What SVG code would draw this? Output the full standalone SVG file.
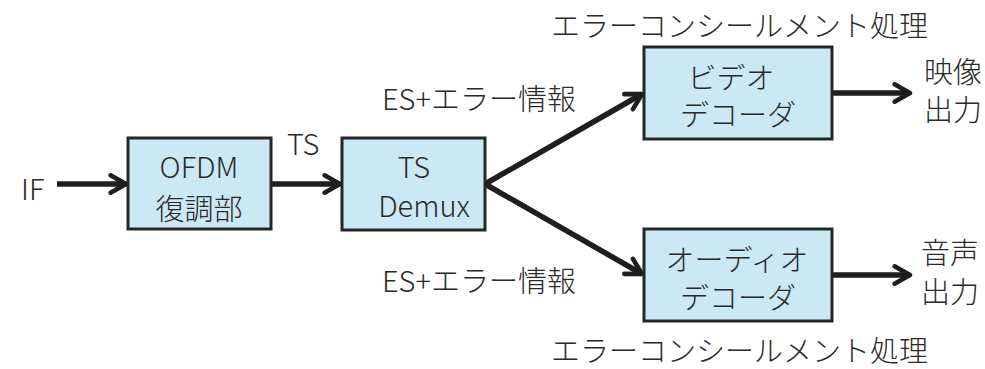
<svg xmlns="http://www.w3.org/2000/svg" width="985" height="369" viewBox="0 0 985 369">
  <style>
    text { font-family: "Noto Sans CJK JP", "Noto Sans", sans-serif; font-size: 29px; font-weight: 300; fill: #2a2a2a; }
    .c { text-anchor: middle; }
    .box { fill: #cbe9f4; stroke: #262626; stroke-width: 3; }
    .wire { fill: none; stroke: #1e1e1e; stroke-width: 5.5; }
  </style>
  <defs>
    <marker id="chev" viewBox="0 0 12 12" refX="10" refY="6" markerWidth="4.2" markerHeight="4.2" orient="auto" markerUnits="strokeWidth">
      <path d="M2,1.5 L10,6 L2,10.5" fill="none" stroke="#1e1e1e" stroke-width="2.4" stroke-linecap="round" stroke-linejoin="round"/>
    </marker>
  </defs>

  <g id="connectors">
    <line class="wire" x1="57" y1="184" x2="126" y2="184" marker-end="url(#chev)"/>
    <line class="wire" x1="271" y1="184" x2="340" y2="184" marker-end="url(#chev)"/>
    <line class="wire" x1="485" y1="184" x2="642" y2="94" marker-end="url(#chev)"/>
    <line class="wire" x1="485" y1="184" x2="642" y2="274" marker-end="url(#chev)"/>
    <line class="wire" x1="832" y1="93" x2="910" y2="93" marker-end="url(#chev)"/>
    <line class="wire" x1="832" y1="275" x2="910" y2="275" marker-end="url(#chev)"/>
  </g>

  <g id="labels">
    <text x="21" y="200">IF</text>
    <text x="287" y="155">TS</text>
    <text x="382" y="110">ES+エラー情報</text>
    <text x="382" y="292">ES+エラー情報</text>
    <text x="551" y="37">エラーコンシールメント処理</text>
    <text x="551" y="362">エラーコンシールメント処理</text>
    <text x="924" y="83">映像</text>
    <text x="924" y="121">出力</text>
    <text x="921" y="264">音声</text>
    <text x="921" y="303">出力</text>
  </g>

  <g id="ofdm">
    <rect class="box" x="128" y="138" width="143" height="91"/>
    <text class="c" x="199" y="178">OFDM</text>
    <text class="c" x="199" y="220">復調部</text>
  </g>

  <g id="demux">
    <rect class="box" x="342" y="138" width="143" height="92"/>
    <text class="c" x="414" y="178">TS</text>
    <text class="c" x="424" y="217">Demux</text>
  </g>

  <g id="video-decoder">
    <rect class="box" x="644" y="47" width="188" height="92"/>
    <text class="c" x="731" y="89">ビデオ</text>
    <text class="c" x="738" y="126">デコーダ</text>
  </g>

  <g id="audio-decoder">
    <rect class="box" x="644" y="229" width="188" height="92"/>
    <text class="c" x="737" y="271">オーディオ</text>
    <text class="c" x="738" y="309">デコーダ</text>
  </g>
</svg>
